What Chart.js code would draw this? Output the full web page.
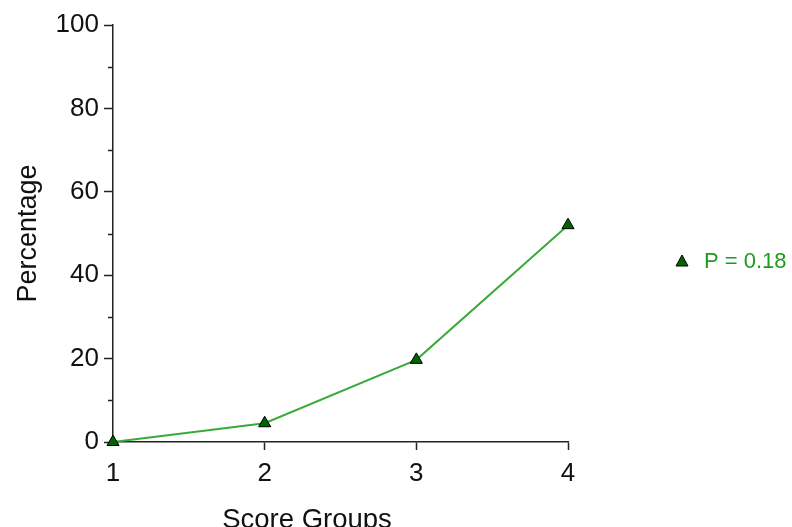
<!DOCTYPE html>
<html>
<head>
<meta charset="utf-8">
<script src="https://cdn.jsdelivr.net/npm/chart.js@4"></script>
<style>
  body { margin: 0; background: #fff; }
  canvas { display: block; }
</style>
</head>
<body>
<canvas id="chart" width="792" height="527"></canvas>
<script>
// данные графика
const scoreGroups = [1, 2, 3, 4];
const percentages = [0, 4.5, 19.7, 52];
const yMajorTicks = [0, 20, 40, 60, 80, 100];
const seriesLabel = 'P = 0.18';
const xTitle = 'Score Groups';
const yTitle = 'Percentage';

const FONT = '"Liberation Sans", Arial, sans-serif';
const AXIS_COLOR = '#222';

// оси, мелкие засечки, подпись оси X и легенда
const extrasPlugin = {
    id: 'extras',
    afterDraw(c) {
        const ctx = c.ctx;
        const y = c.scales.y;
        const left = c.chartArea.left;
        ctx.save();
        ctx.strokeStyle = AXIS_COLOR;
        ctx.lineWidth = 1.5;
        // мелкие засечки по Y
        for (let v = 10; v < 100; v += 20) {
            const py = Math.round(y.getPixelForValue(v)) + 0.5;
            ctx.beginPath();
            ctx.moveTo(left - 5, py);
            ctx.lineTo(left, py);
            ctx.stroke();
        }
        // подпись оси X
        ctx.fillStyle = '#111';
        ctx.font = '27.5px ' + FONT;
        ctx.textAlign = 'center';
        ctx.textBaseline = 'alphabetic';
        ctx.fillText(xTitle, 307, 528);

        // легенда
        const lx = 682, ly = 261;
        ctx.beginPath();
        ctx.moveTo(lx, ly - 6);
        ctx.lineTo(lx + 6, ly + 5);
        ctx.lineTo(lx - 6, ly + 5);
        ctx.closePath();
        ctx.fillStyle = '#006400';
        ctx.fill();
        ctx.lineWidth = 1;
        ctx.strokeStyle = '#000';
        ctx.stroke();
        ctx.fillStyle = '#1f9a1f';
        ctx.font = '22px ' + FONT;
        ctx.textAlign = 'left';
        ctx.textBaseline = 'middle';
        ctx.fillText(c.data.datasets[0].label, 704, ly + 1);
        ctx.restore();
    }
};

document.addEventListener('DOMContentLoaded', () => {
    const ctx = document.getElementById('chart').getContext('2d');
    new Chart(ctx, {
        type: 'line',
        data: {
            datasets: [{
                label: seriesLabel,
                data: scoreGroups.map((g, i) => ({ x: g, y: percentages[i] })),
                borderColor: '#3aaa3a',
                borderWidth: 2,
                backgroundColor: '#006400',
                pointStyle: 'triangle',
                pointRadius: 7,
                pointBorderColor: '#000',
                pointBorderWidth: 1,
                pointBackgroundColor: '#006400',
                tension: 0,
                fill: false,
                clip: false
            }]
        },
        options: {
            responsive: false,
            animation: false,
            layout: { padding: { left: 0, right: 224, top: 25, bottom: 0 } },
            plugins: {
                legend: { display: false },
                tooltip: { enabled: false }
            },
            scales: {
                x: {
                    type: 'linear',
                    min: 1,
                    max: 4,
                    afterFit: s => { s.height = 85; },
                    afterBuildTicks: s => { s.ticks = scoreGroups.map(v => ({ value: v })); },
                    ticks: {
                        color: '#111',
                        font: { family: FONT, size: 26 },
                        padding: 8,
                        maxRotation: 0,
                        autoSkip: false
                    },
                    grid: {
                        drawOnChartArea: false,
                        drawTicks: true,
                        tickLength: 8,
                        tickWidth: 1.5,
                        tickColor: c => (c.tick && c.tick.value === 1 ? 'rgba(0,0,0,0)' : AXIS_COLOR)
                    },
                    border: { display: true, color: AXIS_COLOR, width: 1.5 }
                },
                y: {
                    min: 0,
                    max: 100,
                    afterFit: s => { s.width = 113; },
                    afterBuildTicks: s => { s.ticks = yMajorTicks.map(v => ({ value: v })); },
                    ticks: {
                        color: '#111',
                        font: { family: FONT, size: 26 },
                        padding: 5,
                        autoSkip: false
                    },
                    grid: {
                        drawOnChartArea: false,
                        drawTicks: true,
                        tickLength: 9,
                        tickWidth: 1.5,
                        tickColor: AXIS_COLOR
                    },
                    border: { display: true, color: AXIS_COLOR, width: 1.5 },
                    title: {
                        display: true,
                        text: yTitle,
                        color: '#111',
                        font: { family: FONT, size: 27 },
                        padding: { top: 12, bottom: 0 }
                    }
                }
            }
        },
        plugins: [extrasPlugin]
    });
});
</script>
</body>
</html>
